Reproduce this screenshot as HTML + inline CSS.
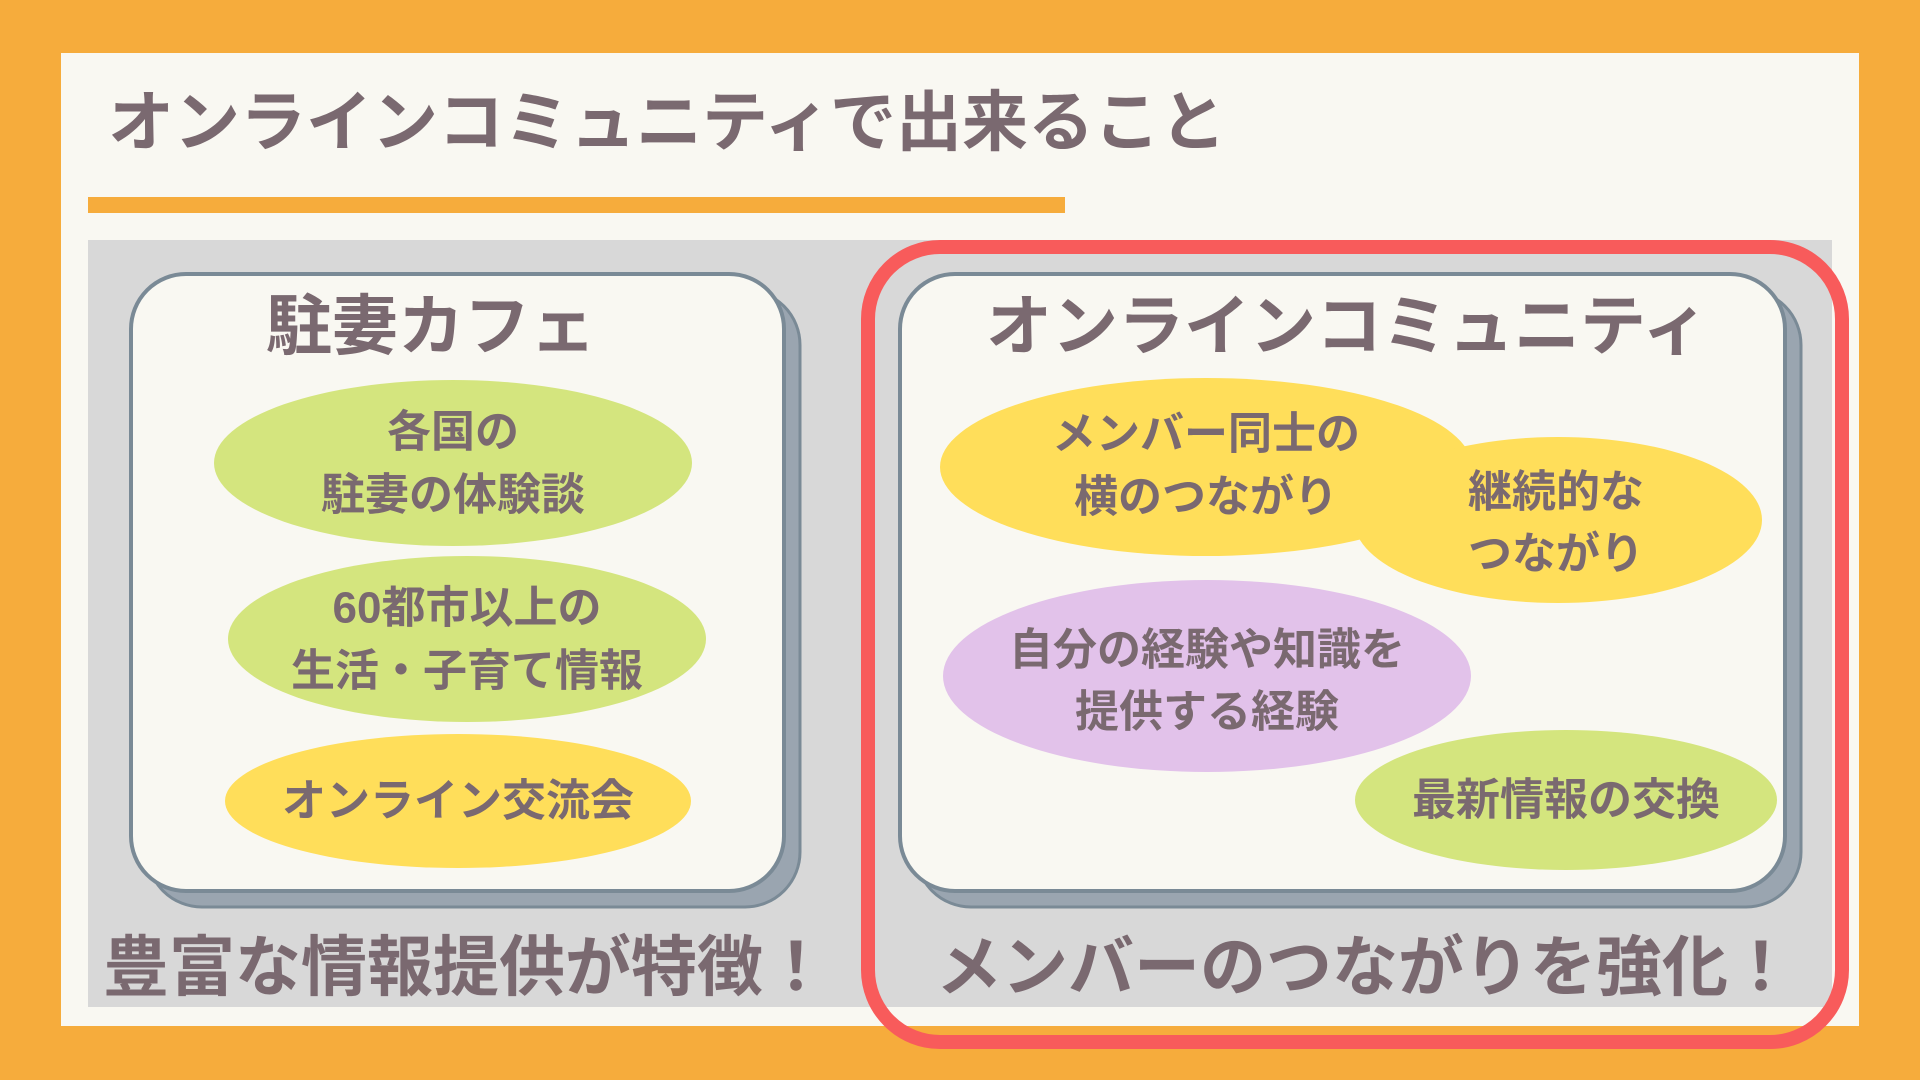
<!DOCTYPE html>
<html><head><meta charset="utf-8"><style>
html,body{margin:0;padding:0;width:1920px;height:1080px;overflow:hidden;background:#F6AC3C}
svg text{font-family:"Liberation Sans","Noto Sans CJK JP",sans-serif;font-weight:bold;fill:#7A6970;text-anchor:middle;dominant-baseline:central}
</style></head><body>
<svg width="1920" height="1080" viewBox="0 0 1920 1080" xmlns="http://www.w3.org/2000/svg">
<rect x="0" y="0" width="1920" height="1080" fill="#F6AC3C"/>
<rect x="61" y="53" width="1798" height="973" fill="#F9F8F2"/>
<text x="108" y="122" font-size="66" style="text-anchor:start">オンラインコミュニティで出来ること</text>
<rect x="88" y="197" width="977" height="16" fill="#F6AC3C"/>
<rect x="88" y="240" width="1744" height="767" fill="#D8D8D8"/>
<!-- left card -->
<rect x="147" y="290" width="653" height="617" rx="55" fill="#9AA5B0" stroke="#7A8A96" stroke-width="3"/>
<rect x="131" y="274" width="653" height="617" rx="55" fill="#F9F8F2" stroke="#7A8A96" stroke-width="4"/>
<text x="431" y="326" font-size="66">駐妻カフェ</text>
<ellipse cx="453" cy="463" rx="239" ry="83" fill="#D4E57E"/>
<text x="453" y="432" font-size="44">各国の</text>
<text x="453" y="495" font-size="44">駐妻の体験談</text>
<ellipse cx="467" cy="639" rx="239" ry="83" fill="#D4E57E"/>
<text x="467" y="608" font-size="44">60都市以上の</text>
<text x="467" y="671" font-size="44">生活・子育て情報</text>
<ellipse cx="458" cy="801" rx="233" ry="67" fill="#FFDE5A"/>
<text x="458" y="801" font-size="44">オンライン交流会</text>
<text x="466" y="967" font-size="66">豊富な情報提供が特徴！</text>
<!-- right card -->
<rect x="916" y="290" width="885" height="617" rx="55" fill="#9AA5B0" stroke="#7A8A96" stroke-width="3"/>
<rect x="900" y="274" width="885" height="617" rx="55" fill="#F9F8F2" stroke="#7A8A96" stroke-width="4"/>
<text x="1347" y="326" font-size="66">オンラインコミュニティ</text>
<ellipse cx="1206" cy="467" rx="266" ry="89" fill="#FFDE5A"/>
<ellipse cx="1558" cy="520" rx="204" ry="83" fill="#FFDE5A"/>
<text x="1206" y="434" font-size="44">メンバー同士の</text>
<text x="1206" y="497" font-size="44">横のつながり</text>
<text x="1556" y="492" font-size="44">継続的な</text>
<text x="1556" y="554" font-size="44">つながり</text>
<ellipse cx="1207" cy="676" rx="264" ry="96" fill="#E2C2EA"/>
<text x="1207" y="650" font-size="44">自分の経験や知識を</text>
<text x="1207" y="712" font-size="44">提供する経験</text>
<ellipse cx="1566" cy="800" rx="211" ry="70" fill="#D4E57E"/>
<text x="1566" y="800" font-size="44">最新情報の交換</text>
<text x="1365" y="967" font-size="66">メンバーのつながりを強化！</text>
<rect x="868" y="247" width="974" height="795" rx="72" fill="none" stroke="#F85B5B" stroke-width="14"/>
</svg>
</body></html>
